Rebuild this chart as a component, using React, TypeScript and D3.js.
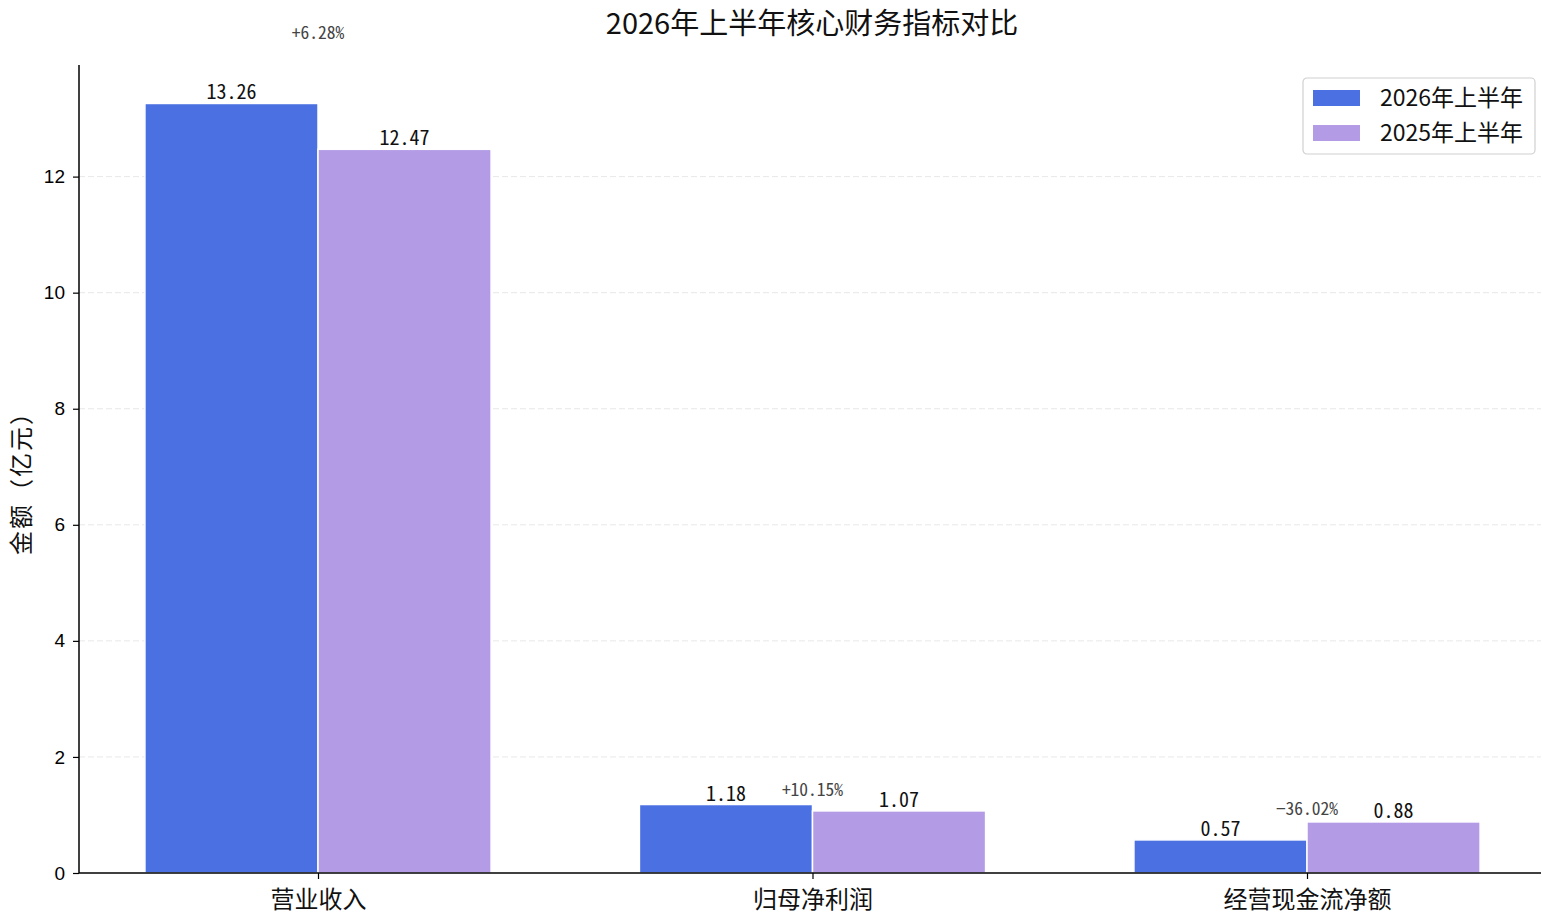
import React, { useRef, useEffect } from "react";
import * as d3 from "d3";

// categories and series
const categories = ["营业收入", "归母净利润", "经营现金流净额"];
const values2026 = [13.26, 1.18, 0.57];
const values2025 = [12.47, 1.07, 0.88];
const growthLabels = ["+6.28%", "+10.15%", "−36.02%"];
const seriesNames = ["2026年上半年", "2025年上半年"];
const yTicks = [0, 2, 4, 6, 8, 10, 12];

const BLUE = "#4a70e2";
const PURPLE = "#b39be6";
const CJK = "'Noto Sans CJK SC', 'Noto Sans', sans-serif";

const App: React.FC = () => {
  const svgRef = useRef<SVGSVGElement | null>(null);

  const width = 1542;
  const height = 924;
  const left = 79;
  const right = 1541;
  const top = 65;
  const bottom = 873;
  const barW = 0.35;

  useEffect(() => {
    if (!svgRef.current) return;
    const svg = d3.select(svgRef.current);
    svg.selectAll("*").remove();

    // category centres sit at 318 / 812 / 1307 in the reference
    const x = d3.scaleLinear().domain([0, 2]).range([318, 1307]);
    const yMax = d3.max([...values2026, ...values2025])! * 1.05;
    const y = d3.scaleLinear().domain([0, yMax]).range([bottom, top]);

    // grid
    svg.append("g")
      .selectAll("line")
      .data(yTicks.filter((d) => d > 0))
      .enter()
      .append("line")
      .attr("x1", left)
      .attr("x2", right)
      .attr("y1", (d) => y(d))
      .attr("y2", (d) => y(d))
      .attr("stroke", "#d9d9d9")
      .attr("stroke-opacity", 0.6)
      .attr("stroke-dasharray", "6,3")
      .attr("stroke-width", 1);

    // bars
    const series = [
      { vals: values2026, color: BLUE, offset: -barW },
      { vals: values2025, color: PURPLE, offset: 0 },
    ];
    series.forEach((s) => {
      svg.append("g")
        .selectAll("rect")
        .data(s.vals)
        .enter()
        .append("rect")
        .attr("x", (_d, i) => x(i + s.offset))
        .attr("width", x(barW) - x(0))
        .attr("y", (d) => y(d))
        .attr("height", (d) => y(0) - y(d))
        .attr("fill", s.color)
        .attr("stroke", "#fff")
        .attr("stroke-width", 1.5);

      svg.append("g")
        .selectAll("text")
        .data(s.vals)
        .enter()
        .append("text")
        .attr("x", (_d, i) => x(i + s.offset + barW / 2))
        .attr("y", (d) => y(d) - 4)
        .attr("text-anchor", "middle")
        .style("font-family", CJK)
        .style("font-feature-settings", "'hwid'")
        .style("font-size", "20px")
        .attr("fill", "#111")
        .text((d) => d.toFixed(2));
    });

    // growth labels above each pair
    svg.append("g")
      .selectAll("text")
      .data(growthLabels)
      .enter()
      .append("text")
      .attr("x", (_d, i) => x(i))
      .attr("y", (_d, i) => y(Math.max(values2026[i], values2025[i]) * 1.08 + 0.15))
      .attr("dy", "0.35em")
      .attr("text-anchor", "middle")
      .style("font-family", CJK)
      .style("font-feature-settings", "'hwid'")
      .style("font-size", "17.5px")
      .attr("fill", "#444")
      .text((d) => d);

    // y axis
    const yAxis = svg.append("g")
      .attr("transform", `translate(${left},0)`)
      .call(d3.axisLeft(y).tickValues(yTicks).tickSize(6).tickPadding(8).tickFormat(d3.format("d")));
    yAxis.select(".domain").attr("stroke", "#000").attr("stroke-width", 1.5).attr("d", `M0,${top}V${bottom}`);
    yAxis.selectAll(".tick line").attr("stroke", "#000").attr("stroke-width", 1.2);
    yAxis.selectAll(".tick text")
      .style("font-family", "'Liberation Sans', Arial, sans-serif")
      .style("font-size", "19px")
      .attr("fill", "#000");

    // x axis
    const xAxis = svg.append("g")
      .attr("transform", `translate(0,${bottom})`)
      .call(
        d3.axisBottom(x)
          .tickValues(categories.map((_c, i) => i))
          .tickSize(6)
          .tickPadding(12)
          .tickFormat((d) => categories[d as number])
      );
    xAxis.select(".domain").attr("stroke", "#000").attr("stroke-width", 1.5).attr("d", `M${left},0H${right}`);
    xAxis.selectAll(".tick line").attr("stroke", "#000").attr("stroke-width", 1.2);
    xAxis.selectAll(".tick text")
      .style("font-family", CJK)
      .style("font-size", "24px")
      .attr("fill", "#111");

    // y label
    svg.append("text")
      .attr("transform", `translate(22,${(top + bottom) / 2 + 8}) rotate(-90)`)
      .attr("text-anchor", "middle")
      .attr("dy", "0.35em")
      .style("font-family", CJK)
      .style("font-size", "24px")
      .style("letter-spacing", "2px")
      .attr("fill", "#111")
      .text("金额（亿元）");

    // title
    svg.append("text")
      .attr("x", 812)
      .attr("y", 24)
      .attr("dy", "0.35em")
      .attr("text-anchor", "middle")
      .style("font-family", CJK)
      .style("font-size", "29px")
      .attr("fill", "#111")
      .text("2026年上半年核心财务指标对比");

    // legend
    const lg = svg.append("g").attr("transform", "translate(1303,78)");
    lg.append("rect")
      .attr("width", 232)
      .attr("height", 76)
      .attr("rx", 4)
      .attr("fill", "#fff")
      .attr("fill-opacity", 0.9)
      .attr("stroke", "#d0d0d0")
      .attr("stroke-width", 1.2);
    [BLUE, PURPLE].forEach((c, i) => {
      lg.append("rect")
        .attr("x", 10)
        .attr("y", 12 + i * 35)
        .attr("width", 47)
        .attr("height", 16)
        .attr("fill", c);
      lg.append("text")
        .attr("x", 77)
        .attr("y", 20 + i * 35)
        .attr("dy", "0.35em")
        .style("font-family", CJK)
        .style("font-size", "23px")
        .attr("fill", "#111")
        .text(seriesNames[i]);
    });
  }, []);

  return (
    <div style={{ position: "absolute", left: 0, top: 0, background: "#fff" }}>
      <svg ref={svgRef} width={width} height={height} style={{ display: "block" }} />
    </div>
  );
};

export default App;
